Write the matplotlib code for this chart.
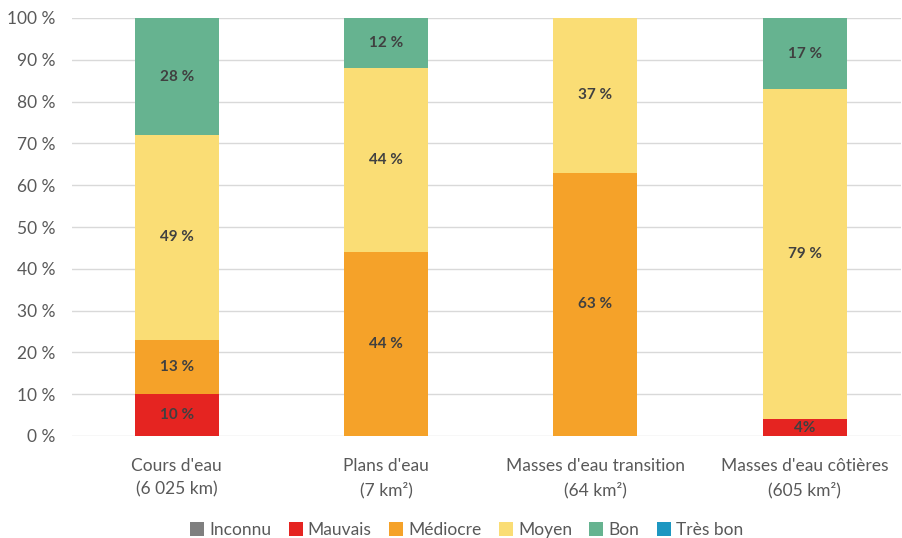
import matplotlib.pyplot as plt
import numpy as np

# categories and values (%)
categories = ["Cours d'eau\n(6 025 km)", "Plans d'eau\n(7 km²)",
              "Masses d'eau transition\n(64 km²)", "Masses d'eau côtières\n(605 km²)"]
series = ["Inconnu", "Mauvais", "Médiocre", "Moyen", "Bon", "Très bon"]
inconnu = [0, 0, 0, 0]
mauvais = [10, 0, 0, 4]
mediocre = [13, 44, 63, 0]
moyen = [49, 44, 37, 79]
bon = [28, 12, 0, 17]
tres_bon = [0, 0, 0, 0]

colors = ["#7f7f7f", "#e52421", "#f5a229", "#fadd75", "#66b390", "#1d97c1"]

plt.rcParams['font.family'] = ['Lato', 'DejaVu Sans']

fig = plt.figure(figsize=(9.03, 5.38), dpi=100)
ax = fig.add_axes([72 / 903, 1 - 436 / 538, (901 - 72) / 903, 418 / 538])

x = np.arange(len(categories))
bottom = np.zeros(len(categories))
data = [inconnu, mauvais, mediocre, moyen, bon, tres_bon]
for name, vals, c in zip(series, data, colors):
    vals = np.array(vals, dtype=float)
    ax.bar(x, vals, 0.4, bottom=bottom, color=c, label=name, zorder=2)
    for xi, v, b in zip(x, vals, bottom):
        if v > 0:
            txt = "4%" if (v == 4) else f"{int(v)} %"
            ax.text(xi, b + v / 2, txt, ha='center', va='center',
                    fontsize=11, color='#404040', fontweight='bold')
    bottom += vals

ax.set_xlim(-0.5, 3.46)
ax.set_ylim(0, 100)
ax.set_yticks(range(0, 101, 10))
ax.set_yticklabels([f"{v} %" for v in range(0, 101, 10)])
ax.set_xticks(x)
ax.set_xticklabels(categories, linespacing=1.55)
ax.tick_params(axis='both', length=0, labelsize=12.5, colors='#595959')
ax.tick_params(axis='x', pad=16)
ax.tick_params(axis='y', pad=12)
ax.grid(axis='y', color='#d9d9d9', linewidth=1, zorder=0)
for s in ax.spines.values():
    s.set_visible(False)

ax.legend(loc='center', bbox_to_anchor=(0.476, -0.225), ncol=6, frameon=False,
          fontsize=12.5, handlelength=0.8, handleheight=0.8, handletextpad=0.3,
          columnspacing=1.0, labelcolor='#595959')

fig.savefig("out.png", dpi=100)
